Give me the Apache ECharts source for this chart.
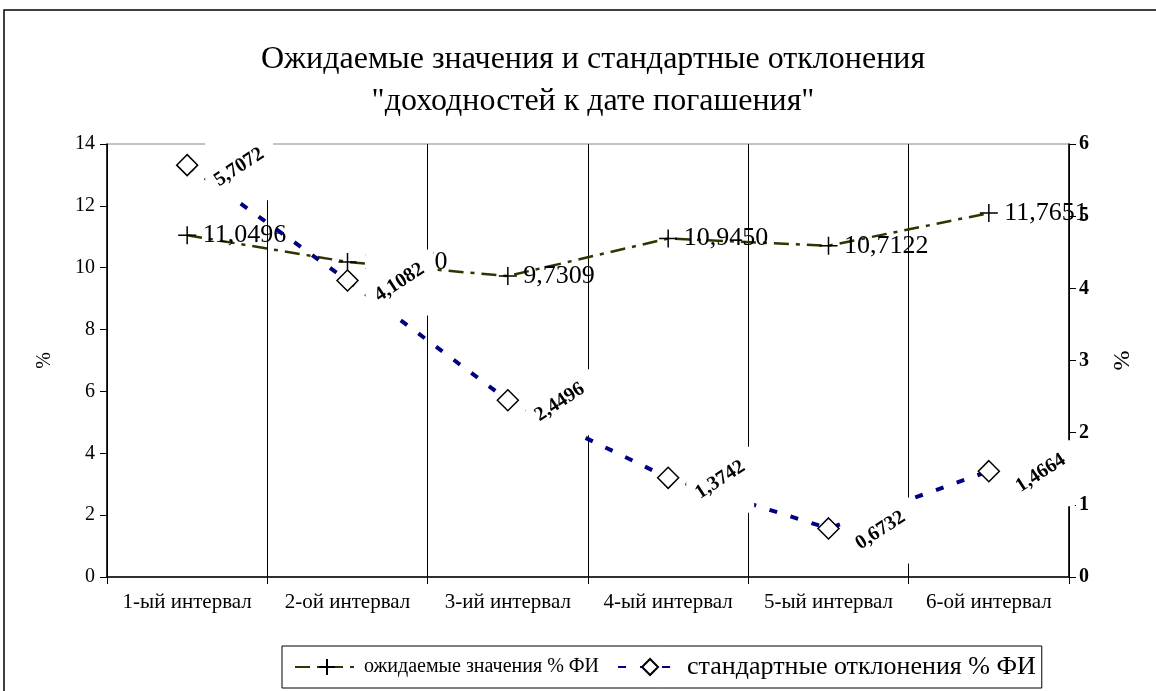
<!DOCTYPE html>
<html><head><meta charset="utf-8">
<script src="https://cdn.jsdelivr.net/npm/echarts@6/dist/echarts.min.js"></script>
<style>html,body{margin:0;padding:0;background:#fff}#c{width:1156px;height:691px}</style>
</head><body><div id="c"></div>
<script>
const categories = ['1-ый интервал','2-ой интервал','3-ий интервал','4-ый интервал','5-ый интервал','6-ой интервал'];
const expected = [11.0496, 10.1870, 9.7309, 10.9450, 10.7122, 11.7651];
const stdDev = [5.7072, 4.1082, 2.4496, 1.3742, 0.6732, 1.4664];
const leftTicks = {min: 0, max: 14, interval: 2};
const rightTicks = {min: 0, max: 6, interval: 1};
const titleLines = ['Ожидаемые значения и стандартные отклонения', '"доходностей к дате погашения"'];
const seriesNames = ['ожидаемые значения % ФИ', 'стандартные отклонения % ФИ'];

const F = 'Liberation Serif, Times New Roman, serif';
const fmt = v => v.toFixed(4).replace('.', ',');
const chart = echarts.init(document.getElementById('c'));
chart.setOption({
  backgroundColor: '#fff',
  animation: false,
  graphic: [{type: 'rect', shape: {x: 4, y: 10, width: 1300, height: 800}, style: {fill: 'none', stroke: '#000', lineWidth: 1.5}, silent: true}],
  title: {text: titleLines.join('\n'), left: 588, textAlign: 'center', top: 34,
    textStyle: {fontFamily: F, fontSize: 32, fontWeight: 'normal', color: '#000', lineHeight: 42}},
  legend: {left: 282, top: 646, itemWidth: 64, itemHeight: 20, itemGap: 18,
    borderColor: '#000', borderWidth: 1, padding: [8, 6, 8, 12],
    data: [
      {name: seriesNames[0], textStyle: {fontFamily: F, fontSize: 20, color: '#000'}},
      {name: seriesNames[1], textStyle: {fontFamily: F, fontSize: 26, color: '#000'}}
    ]},
  grid: {left: 107, right: 87, top: 144, bottom: 114, show: true, borderColor: '#888', borderWidth: 1},
  xAxis: {type: 'category', data: categories, boundaryGap: true,
    axisLine: {lineStyle: {color: '#000', width: 1.5}},
    axisTick: {show: true, length: 7, interval: 0, lineStyle: {color: '#000'}},
    axisLabel: {fontFamily: F, fontSize: 21, color: '#000', margin: 15, interval: 0},
    splitLine: {show: true, interval: 0, lineStyle: {color: '#000', width: 1}}},
  yAxis: [
    {type: 'value', min: leftTicks.min, max: leftTicks.max, interval: leftTicks.interval,
      name: '%', nameLocation: 'middle', nameGap: 52, nameTextStyle: {fontFamily: F, fontSize: 20, color: '#000'},
      axisLine: {show: true, lineStyle: {color: '#000', width: 1.5}},
      axisTick: {show: true, length: 7, lineStyle: {color: '#000'}},
      axisLabel: {fontFamily: F, fontSize: 20, color: '#000', margin: 12},
      splitLine: {show: false}},
    {type: 'value', min: rightTicks.min, max: rightTicks.max, interval: rightTicks.interval, position: 'right',
      name: '%', nameLocation: 'middle', nameGap: 42, nameTextStyle: {fontFamily: F, fontSize: 24, color: '#000'},
      axisLine: {show: true, lineStyle: {color: '#000', width: 1.5}},
      axisTick: {show: true, length: 7, lineStyle: {color: '#000'}},
      axisLabel: {fontFamily: F, fontSize: 20, fontWeight: 'bold', color: '#000', margin: 10},
      splitLine: {show: false}}
  ],
  series: [
    {name: seriesNames[0], type: 'line', data: expected, yAxisIndex: 0, z: 2,
      symbol: 'path://M0,5L10,5M5,0L5,10', symbolSize: 18, showAllSymbol: true,
      itemStyle: {color: 'none', borderColor: '#000', borderWidth: 1.5},
      lineStyle: {color: '#333300', width: 2.5, type: [15, 7, 4, 7]},
      label: {show: true, position: 'right', distance: 4, formatter: p => fmt(p.value),
        fontFamily: F, fontSize: 26, color: '#000'}},
    {name: seriesNames[1], type: 'line', data: stdDev, yAxisIndex: 1, z: 3,
      symbol: 'diamond', symbolSize: 21, showAllSymbol: true,
      itemStyle: {color: '#fff', borderColor: '#000', borderWidth: 1.5},
      lineStyle: {color: '#000080', width: 4, type: [8, 14]}},
    {name: 'labels', type: 'scatter', data: stdDev, yAxisIndex: 1, z: 4, silent: true,
      symbol: 'rect', symbolSize: [68, 66], symbolOffset: [52, 2],
      itemStyle: {color: '#fff', opacity: 1},
      emphasis: {disabled: true},
      label: {show: true, position: 'inside', rotate: 33, formatter: p => fmt(p.value),
        fontFamily: F, fontSize: 20, fontWeight: 'bold', color: '#000', opacity: 1}}
  ]
});
</script></body></html>
